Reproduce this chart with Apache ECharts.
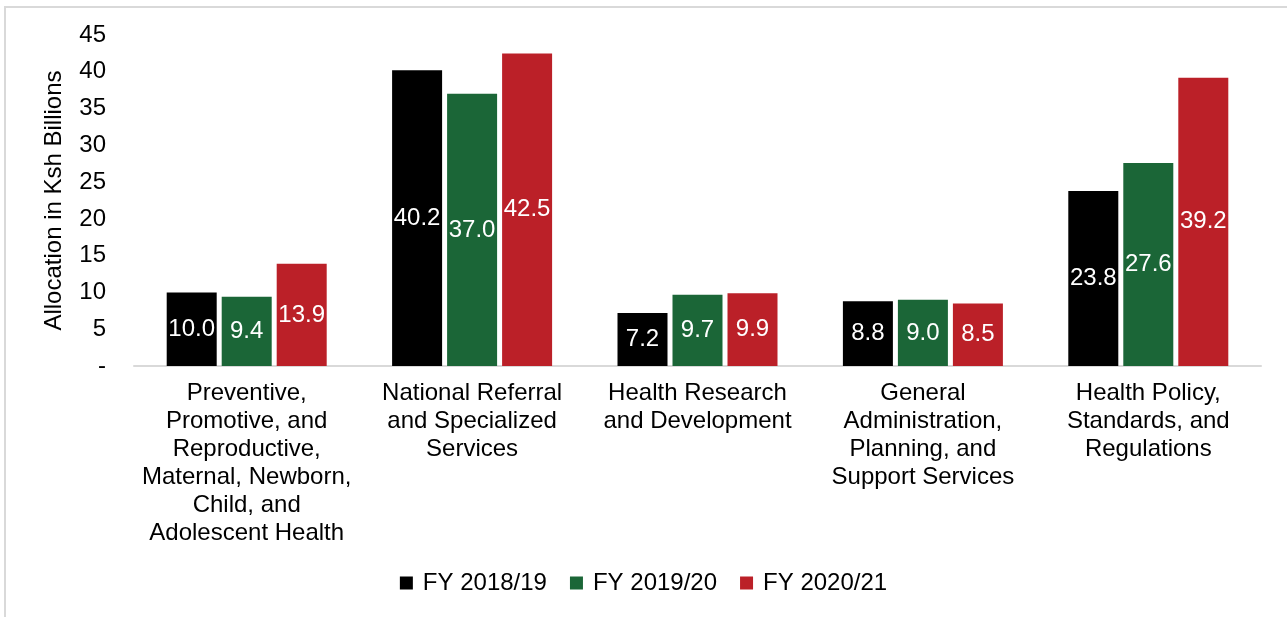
<!DOCTYPE html>
<html>
<head>
<meta charset="utf-8">
<style>
  html, body { margin: 0; padding: 0; background: #fff; }
  #chart { width: 1287px; height: 617px; }
</style>
<script src="https://cdn.jsdelivr.net/npm/echarts@6/dist/echarts.min.js"></script>
</head>
<body>
<div id="chart"></div>
<script>
// Programme names, broken into the lines they are shown on
const categories = [
  'Preventive,\nPromotive, and\nReproductive,\nMaternal, Newborn,\nChild, and\nAdolescent Health',
  'National Referral\nand Specialized\nServices',
  'Health Research\nand Development',
  'General\nAdministration,\nPlanning, and\nSupport Services',
  'Health Policy,\nStandards, and\nRegulations'
];

// Allocation in Ksh billions per fiscal year
const fy2018 = [10.0, 40.2, 7.2, 8.8, 23.8];
const fy2019 = [9.4, 37.0, 9.7, 9.0, 27.6];
const fy2020 = [13.9, 42.5, 9.9, 8.5, 39.2];

const seriesNames = ['FY 2018/19', 'FY 2019/20', 'FY 2020/21'];
const yTicks = [0, 5, 10, 15, 20, 25, 30, 35, 40, 45];

const colors = ['#000000', '#1b6637', '#bb2028'];
const font = 'Arial, "Liberation Sans", sans-serif';
const fs = 24;

const chart = echarts.init(document.getElementById('chart'));

function barSeries(name, data, color) {
  return {
    name: name,
    type: 'bar',
    data: data,
    barWidth: 50,
    barGap: '10%',
    itemStyle: { color: color },
    label: {
      show: true,
      position: 'inside',
      color: '#ffffff',
      fontFamily: font,
      fontSize: fs,
      formatter: p => p.value.toFixed(1)
    }
  };
}

chart.setOption({
  animation: false,
  graphic: [{
    type: 'rect',
    shape: { x: 5, y: 7, width: 1400, height: 700 },
    style: { fill: 'none', stroke: '#d9d9d9', lineWidth: 2 },
    silent: true
  }],
  grid: { left: 134, right: 26, top: 35, bottom: 251, containLabel: false },
  legend: {
    top: 566,
    left: 'center',
    itemWidth: 13,
    itemHeight: 13,
    itemGap: 23,
    icon: 'rect',
    textStyle: { fontFamily: font, fontSize: fs, color: '#000', padding: [0, 0, 0, 5] },
    data: seriesNames
  },
  xAxis: {
    type: 'category',
    data: categories,
    axisLine: { show: true, lineStyle: { color: '#d9d9d9', width: 2 } },
    axisTick: { show: false },
    axisLabel: {
      interval: 0,
      margin: 13,
      color: '#000',
      fontFamily: font,
      fontSize: fs,
      lineHeight: 28,
      align: 'center'
    }
  },
  yAxis: {
    type: 'value',
    min: 0,
    max: 45,
    interval: 5,
    name: 'Allocation in Ksh Billions',
    nameLocation: 'middle',
    nameGap: 68,
    nameRotate: 90,
    nameTextStyle: { fontFamily: font, fontSize: fs, color: '#000' },
    splitLine: { show: false },
    axisLine: { show: false },
    axisTick: { show: false },
    axisLabel: {
      margin: 28,
      color: '#000',
      fontFamily: font,
      fontSize: fs,
      formatter: v => (v === yTicks[0] ? '-' : String(v))
    }
  },
  series: [
    barSeries(seriesNames[0], fy2018, colors[0]),
    barSeries(seriesNames[1], fy2019, colors[1]),
    barSeries(seriesNames[2], fy2020, colors[2])
  ]
});
</script>
</body>
</html>
